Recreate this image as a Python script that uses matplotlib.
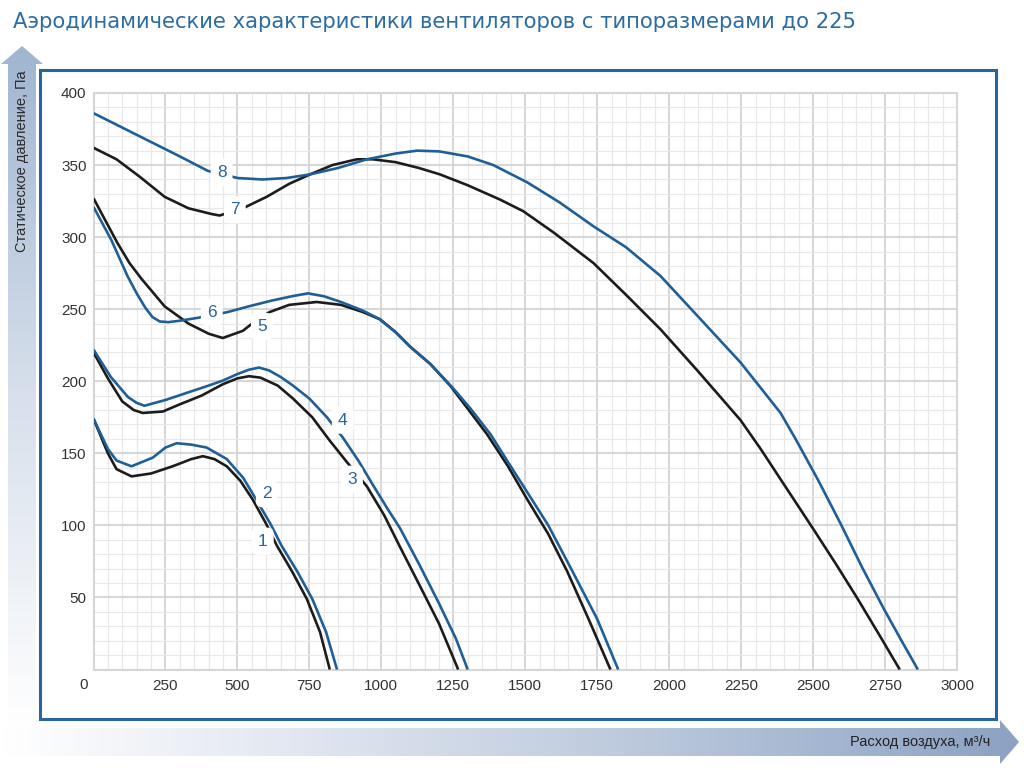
import matplotlib
matplotlib.use("Agg")
import matplotlib.pyplot as plt
import numpy as np
from matplotlib.colors import LinearSegmentedColormap
from matplotlib.patches import Polygon, Rectangle
from matplotlib.ticker import MultipleLocator

# --- data (air flow m3/h, static pressure Pa) ---
x1 = [0, 50, 80, 132, 200, 275, 340, 380, 420, 463, 510, 553, 600, 637, 690, 741, 787, 821]
y1 = [174, 150, 139, 134, 136, 141, 146, 148, 146, 141, 131, 118, 101, 86, 68, 49, 26, 0]

x2 = [0, 50, 80, 132, 206, 250, 289, 340, 393, 463, 520, 565, 615, 653, 708, 760, 808, 846]
y2 = [174, 153, 145, 141, 147, 154, 157, 156, 154, 146, 133, 118, 101, 86, 68, 49, 26, 0]

x3 = [0, 50, 100, 140, 171, 241, 300, 375, 450, 500, 540, 580, 640, 693, 760, 820, 880, 950, 1010, 1065,
      1134, 1200, 1267]
y3 = [220, 202, 186, 180, 178, 179, 184, 190, 198, 202, 203.5, 202.5, 197, 188, 175, 159, 144, 127, 107, 85,
      58, 32, 0]

x4 = [0, 60, 120, 150, 177, 250, 325, 400, 450, 500, 540, 575, 610, 650, 693, 750, 811, 866, 920, 971,
      1020, 1065, 1134, 1200, 1260, 1300]
y4 = [222, 203, 189, 185, 183, 187, 192, 197, 200.5, 205, 208, 209.5, 207.5, 203, 197, 188, 175, 161, 145, 128,
      112, 98, 72, 46, 21, 0]

x5 = [0, 40, 83, 125, 167, 247, 330, 400, 449, 519, 570, 612, 680, 776, 860, 936, 995, 1050, 1100, 1170,
      1239, 1300, 1368, 1440, 1507, 1580, 1646, 1720, 1796]
y5 = [327, 312, 296, 282, 271, 252, 240, 233, 230, 235, 243, 248, 253, 255, 253, 248, 243, 234, 224, 212,
      197, 181, 163, 141, 118, 94, 68, 35, 0]

x6 = [0, 62, 118, 150, 180, 205, 230, 260, 300, 362, 466, 540, 620, 690, 745, 800, 860, 936, 995, 1050,
      1100, 1170, 1250, 1310, 1380, 1440, 1507, 1580, 1667, 1750, 1823]
y6 = [321, 298, 273, 261, 251, 244.5, 241.5, 241, 242, 244, 248, 252, 256, 259, 261, 259, 255, 249, 243, 234,
      224, 212, 195, 181, 163, 144, 123, 100, 67, 35, 0]

x7 = [0, 80, 160, 247, 330, 411, 438, 519, 602, 680, 752, 830, 915, 971, 1050, 1130, 1204, 1300, 1413, 1493,
      1600, 1737, 1850, 1970, 2100, 2248, 2318, 2387, 2499, 2580, 2655, 2730, 2801]
y7 = [362, 354, 342, 328, 320, 316, 315, 320, 328, 337, 343.5, 350, 354, 354, 352, 348, 343.5, 336, 326, 318,
      303, 282, 260, 236, 207, 173, 153, 132, 98, 73, 49, 24, 0]

x8 = [0, 100, 200, 300, 397, 501, 588, 670, 752, 850, 950, 1050, 1124, 1200, 1300, 1389, 1507, 1620, 1737,
      1850, 1970, 2100, 2248, 2387, 2439, 2516, 2596, 2670, 2746, 2810, 2864]
y8 = [386, 376, 366, 356, 346, 341, 340, 341, 343.5, 348, 354, 358, 360, 359.5, 356, 350, 338, 324, 307.5,
      293, 273, 245, 213, 178, 160, 132, 101, 71, 42, 19, 0]

curves = [(x1, y1), (x2, y2), (x3, y3), (x4, y4), (x5, y5), (x6, y6), (x7, y7), (x8, y8)]
curve_names = ['1', '2', '3', '4', '5', '6', '7', '8']
label_x = [588, 602, 898, 866, 585, 411, 491, 445]
label_y = [89, 122, 132, 173, 238, 248, 319, 345]

x_ticks = np.arange(0, 3001, 250)
y_ticks = np.arange(0, 401, 50)

BLUE = '#1f5f96'
BLACK = '#1c1c1c'
LBL = '#2a64a0'
SANS = ['Liberation Sans', 'DejaVu Sans']

W, H = 1024, 770
fig = plt.figure(figsize=(W / 100, H / 100), dpi=100)
fig.patch.set_facecolor('white')

# background layer in pixel coords: arrows and frame
bg = fig.add_axes([0, 0, 1, 1], zorder=0)
bg.set_xlim(0, W)
bg.set_ylim(H, 0)
bg.axis('off')

# vertical arrow (pressure)
cm_v = LinearSegmentedColormap.from_list('v', ['#a0b5d0', '#d6dfeb', '#ffffff'])
im_v = bg.imshow(np.linspace(0, 1, 256).reshape(-1, 1), cmap=cm_v,
                 extent=(0, 45, 730, 46), aspect='auto', zorder=1)
arr_v = Polygon([(8, 770), (8, 64), (1, 64), (22, 46), (43, 64), (36, 64), (36, 770)],
                closed=True, transform=bg.transData)
im_v.set_clip_path(arr_v)

# horizontal arrow (air flow)
cm_h = LinearSegmentedColormap.from_list('h', ['#ffffff', '#dde3ee', '#b7c5da', '#8ca2c3'])
im_h = bg.imshow(np.linspace(0, 1, 256).reshape(1, -1), cmap=cm_h,
                 extent=(0, 1020, 765, 718), aspect='auto', zorder=1)
arr_h = Polygon([(0, 728), (1000, 728), (1000, 720), (1019, 742), (1000, 764), (1000, 756), (0, 756)],
                closed=True, transform=bg.transData)
im_h.set_clip_path(arr_h)

bg.add_patch(Rectangle((40, 70), 956, 649, fill=False, ec='#2a64a0', lw=2.2, zorder=2))

# main chart
ax = fig.add_axes([93.5 / W, 1 - 669.5 / H, (957 - 93.5) / W, (669.5 - 93) / H], zorder=1)
ax.set_facecolor('white')
ax.set_xlim(0, 3000)
ax.set_ylim(0, 400)
ax.set_xticks(x_ticks, [''] + [str(v) for v in x_ticks[1:]])
ax.set_yticks(y_ticks, [''] + [str(v) for v in y_ticks[1:]])
ax.xaxis.set_minor_locator(MultipleLocator(50))
ax.yaxis.set_minor_locator(MultipleLocator(10))
ax.grid(which='minor', color='#e8e8e8', lw=0.9)
ax.grid(which='major', color='#d3d3d3', lw=1.3)
ax.set_axisbelow(True)
ax.tick_params(which='both', length=0)
ax.tick_params(axis='x', pad=7, labelsize=11, labelcolor='#333333')
ax.tick_params(axis='y', pad=5, labelsize=11, labelcolor='#333333')
for lab in ax.get_xticklabels() + ax.get_yticklabels():
    lab.set_fontfamily(SANS)
for sp in ax.spines.values():
    sp.set_color('#d6d6d6')
    sp.set_linewidth(1.5)

ax.annotate('0', xy=(0, 0), xytext=(-7, -11), textcoords='offset points',
            ha='center', va='center', fontsize=11, color='#333333',
            family=SANS, annotation_clip=False)

for i, (xs, ys) in enumerate(curves):
    ax.plot(xs, ys, color=BLACK if i % 2 == 0 else BLUE, lw=1.9,
            solid_joinstyle='round', solid_capstyle='butt', zorder=3)

for name, lx, ly in zip(curve_names, label_x, label_y):
    ax.text(lx, ly, name, ha='center', va='center', fontsize=12.5, color=LBL,
            family=SANS, zorder=5,
            bbox=dict(boxstyle='round,pad=0.35', fc='white', ec='none'))

# texts
fig.text(13 / W, 1 - 22 / H, 'Аэродинамические характеристики вентиляторов с типоразмерами до 225',
         ha='left', va='center', fontsize=15.2, color='#2b6ca3')
fig.text(22 / W, 1 - 161 / H, 'Статическое давление, Па', rotation=90, ha='center', va='center',
         fontsize=10.5, color='#2a2a2a', family=SANS)
fig.text(990 / W, 1 - 742 / H, 'Расход воздуха, м³/ч', ha='right', va='center',
         fontsize=10.5, color='#222222', family=SANS)

fig.savefig('out.png', dpi=100, facecolor='white')
